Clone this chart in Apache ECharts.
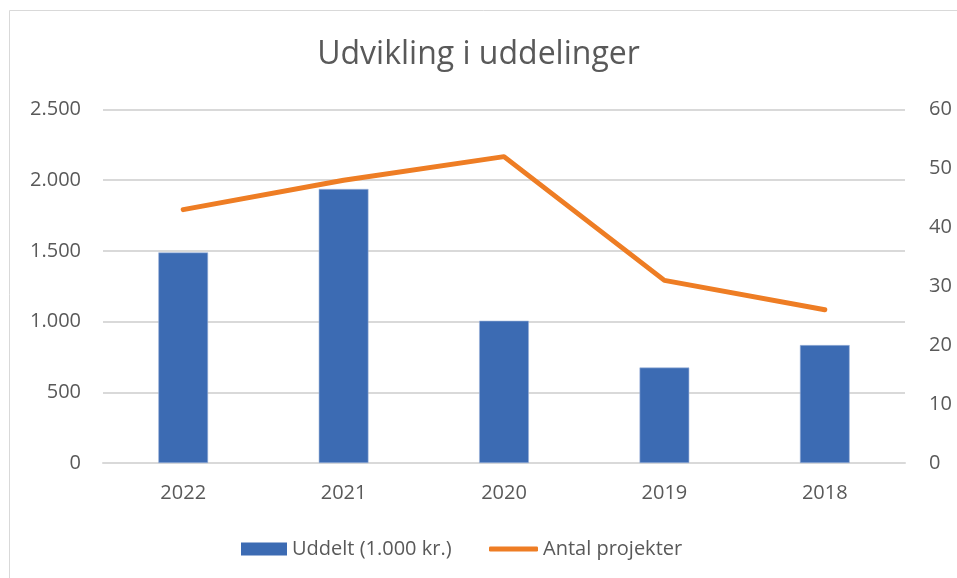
<!DOCTYPE html>
<html>
<head>
<meta charset="utf-8">
<script src="https://cdn.jsdelivr.net/npm/echarts@6/dist/echarts.min.js"></script>
<style>
  html, body { margin: 0; padding: 0; background: #fff; }
  #chart { width: 957px; height: 578px; }
</style>
</head>
<body>
<div id="chart"></div>
<script>
// data
var years = ["2022", "2021", "2020", "2019", "2018"];
var uddelt = [1489, 1938, 1006, 675, 834];
var antal = [43, 48, 52, 31, 26];

var font = "'Open Sans', sans-serif";
var grey = "#595959";

var myChart = echarts.init(document.getElementById("chart"));
myChart.setOption({
  animation: false,
  textStyle: { fontFamily: font },
  title: {
    text: "Udvikling i uddelinger",
    left: "center",
    top: 34,
    textStyle: { fontFamily: font, fontSize: 32, fontWeight: "normal", color: grey }
  },
  graphic: [{
    type: "rect",
    shape: { x: 9.5, y: 10.5, width: 1000, height: 1000 },
    style: { fill: "none", stroke: "#D9D9D9", lineWidth: 1 },
    silent: true
  }],
  // two legends so each key gets its own icon size
  legend: [
    {
      left: 236,
      top: 534,
      itemWidth: 46,
      itemHeight: 13,
      itemStyle: { borderWidth: 0 },
      textStyle: { fontFamily: font, fontSize: 20, color: grey },
      data: [{ name: "Uddelt (1.000 kr.)", icon: "rect" }]
    },
    {
      left: 484,
      top: 534,
      itemWidth: 49,
      itemHeight: 5,
      itemStyle: { borderWidth: 0 },
      textStyle: { fontFamily: font, fontSize: 20, color: grey },
      data: [{ name: "Antal projekter", icon: "roundRect" }]
    }
  ],
  grid: { left: 103, right: 52, top: 109.5, bottom: 115 },
  xAxis: {
    type: "category",
    data: years,
    axisTick: { show: false },
    axisLine: { lineStyle: { color: "#D9D9D9", width: 2 } },
    axisLabel: { color: grey, fontSize: 20, margin: 20 }
  },
  yAxis: [
    {
      type: "value",
      min: 0, max: 2500, interval: 500,
      axisLabel: {
        color: grey, fontSize: 20, margin: 22,
        formatter: function (v) { return v.toLocaleString("da-DK"); }
      },
      splitLine: { lineStyle: { color: "#D9D9D9", width: 2 } },
      axisLine: { show: false },
      axisTick: { show: false }
    },
    {
      type: "value",
      min: 0, max: 60, interval: 10,
      axisLabel: { color: grey, fontSize: 20, margin: 24 },
      splitLine: { show: false },
      axisLine: { show: false },
      axisTick: { show: false }
    }
  ],
  series: [
    {
      name: "Uddelt (1.000 kr.)",
      type: "bar",
      data: uddelt,
      barWidth: "31%",
      itemStyle: { color: "#3C6BB3", borderColor: "#9DB3DA", borderWidth: 0.6 }
    },
    {
      name: "Antal projekter",
      type: "line",
      yAxisIndex: 1,
      data: antal,
      symbol: "none",
      lineStyle: { color: "#EE7D24", width: 5, cap: "round", join: "round" },
      itemStyle: { color: "#EE7D24" }
    }
  ]
});
</script>
</body>
</html>
